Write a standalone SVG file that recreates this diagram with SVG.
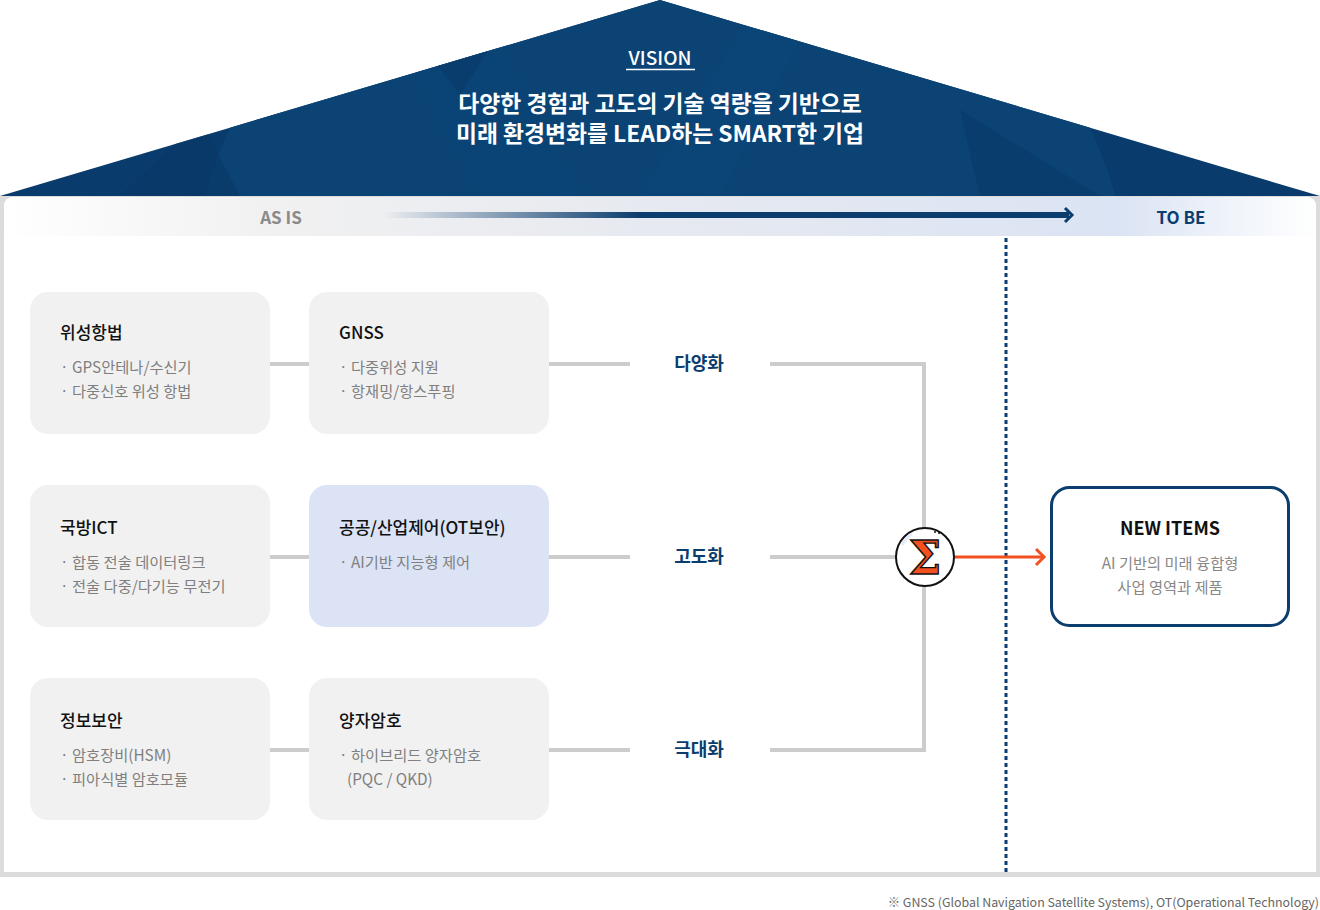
<svg xmlns="http://www.w3.org/2000/svg" width="1320" height="910" viewBox="0 0 1320 910">
<defs>
<style>
.t{font-family:"Noto Sans CJK KR","Noto Sans",sans-serif}
.title{font-size:17px;font-weight:500;fill:#111}
.item{font-size:15.3px;fill:#7f7f7f}
.lab{font-size:18px;font-weight:700;fill:#0b3d6e;text-anchor:middle}
.box{fill:#f1f1f1}
.conn{stroke:#cccccc;stroke-width:4;fill:none}
</style>
<clipPath id="roofClip"><polygon points="0,196 660,0 1320,196"/></clipPath>
<clipPath id="panelClip"><path d="M4,207 Q4,197 14,197 L1306,197 Q1316,197 1316,207 L1316,872 L4,872 Z"/></clipPath>
<linearGradient id="band" x1="0" y1="0" x2="1" y2="0">
<stop offset="0" stop-color="#ffffff"/>
<stop offset="0.2" stop-color="#f1f1f1"/>
<stop offset="0.5" stop-color="#e6e9f0"/>
<stop offset="0.85" stop-color="#dbe4f4"/>
<stop offset="1" stop-color="#ffffff"/>
</linearGradient>
<linearGradient id="arrowG" gradientUnits="userSpaceOnUse" x1="383" y1="0" x2="640" y2="0">
<stop offset="0" stop-color="#0b3d6e" stop-opacity="0"/>
<stop offset="1" stop-color="#0b3d6e"/>
</linearGradient>
</defs>

<!-- roof -->
<g id="roof">
<polygon points="0,196 660,0 1320,196" fill="#093c6c"/>
<g clip-path="url(#roofClip)">
<circle cx="660" cy="330" r="475" fill="#0a4374"/>
<polygon points="380,0 470,0 580,196 480,196" fill="#0a4678" opacity="0.6"/>
<polygon points="410,30 460,95 520,0" fill="#083a69" opacity="0.7"/>
<polygon points="760,0 820,0 720,196 640,196" fill="#0b487b" opacity="0.5"/>
<polygon points="120,196 240,196 200,120" fill="#083765" opacity="0.6"/>
<polygon points="960,110 1100,196 980,196" fill="#083765" opacity="0.5"/>
</g>
<text class="t" x="660" y="65" font-size="19" font-weight="500" fill="#ffffff" text-anchor="middle">VISION</text>
<line x1="626" y1="69.5" x2="695" y2="69.5" stroke="#ffffff" stroke-width="1.5"/>
<text class="t" x="660" y="112" font-size="22.8" font-weight="700" fill="#ffffff" text-anchor="middle">다양한 경험과 고도의 기술 역량을 기반으로</text>
<text class="t" x="660" y="142" font-size="22.8" font-weight="700" fill="#ffffff" text-anchor="middle">미래 환경변화를 LEAD하는 SMART한 기업</text>
</g>

<!-- frame -->
<g id="frame">
<rect x="0" y="196" width="1320" height="681" fill="#dcdcdc"/>
<path d="M4,207 Q4,197 14,197 L1306,197 Q1316,197 1316,207 L1316,872 L4,872 Z" fill="#ffffff"/>
<rect x="4" y="197" width="1312" height="39" fill="url(#band)" clip-path="url(#panelClip)"/>
<text class="t" x="281" y="224" font-size="17" font-weight="700" fill="#8a8a8a" text-anchor="middle">AS IS</text>
<rect x="383" y="212" width="686" height="6" fill="url(#arrowG)"/>
<polyline points="1065,208 1072,215 1065,222" fill="none" stroke="#0b3d6e" stroke-width="3"/>
<text class="t" x="1181" y="224" font-size="17" font-weight="700" fill="#0b3d6e" text-anchor="middle">TO BE</text>
<line x1="1006" y1="238" x2="1006" y2="872" stroke="#0b3d6e" stroke-width="3" stroke-dasharray="4 3"/>
</g>

<!-- connectors -->
<g id="connectors">
<line class="conn" x1="270" y1="364" x2="309" y2="364"/>
<line class="conn" x1="549" y1="364" x2="630" y2="364"/>
<line class="conn" x1="270" y1="557" x2="309" y2="557"/>
<line class="conn" x1="549" y1="557" x2="630" y2="557"/>
<line class="conn" x1="270" y1="750" x2="309" y2="750"/>
<line class="conn" x1="549" y1="750" x2="630" y2="750"/>
<polyline class="conn" points="770,364 924,364 924,750 770,750"/>
<line class="conn" x1="770" y1="557" x2="924" y2="557"/>
<line x1="955" y1="557" x2="1044" y2="557" stroke="#f2501f" stroke-width="3"/>
<polyline points="1036,549 1044,557 1036,565" fill="none" stroke="#f2501f" stroke-width="3"/>
</g>

<g id="label-diversify"><text class="t lab" x="699" y="370">다양화</text></g>
<g id="label-advance"><text class="t lab" x="699" y="563">고도화</text></g>
<g id="label-maximize"><text class="t lab" x="699" y="756">극대화</text></g>

<!-- row 1 -->
<g id="node-sat-nav">
<rect class="box" x="30" y="292" width="240" height="142" rx="18"/>
<text class="t title" x="60" y="339">위성항법</text>
<text class="t item" x="60" y="373">· GPS안테나/수신기</text>
<text class="t item" x="60" y="397">· 다중신호 위성 항법</text>
</g>
<g id="node-gnss">
<rect class="box" x="309" y="292" width="240" height="142" rx="18"/>
<text class="t title" x="339" y="339">GNSS</text>
<text class="t item" x="339" y="373">· 다중위성 지원</text>
<text class="t item" x="339" y="397">· 항재밍/항스푸핑</text>
</g>

<!-- row 2 -->
<g id="node-defense-ict">
<rect class="box" x="30" y="485" width="240" height="142" rx="18"/>
<text class="t title" x="60" y="534">국방ICT</text>
<text class="t item" x="60" y="568">· 합동 전술 데이터링크</text>
<text class="t item" x="60" y="592">· 전술 다중/다기능 무전기</text>
</g>
<g id="node-ot-security">
<rect x="309" y="485" width="240" height="142" rx="18" fill="#dbe3f5"/>
<text class="t title" x="339" y="534">공공/산업제어(OT보안)</text>
<text class="t item" x="339" y="568">· AI기반 지능형 제어</text>
</g>

<!-- row 3 -->
<g id="node-info-security">
<rect class="box" x="30" y="678" width="240" height="142" rx="18"/>
<text class="t title" x="60" y="727">정보보안</text>
<text class="t item" x="60" y="761">· 암호장비(HSM)</text>
<text class="t item" x="60" y="785">· 피아식별 암호모듈</text>
</g>
<g id="node-quantum">
<rect class="box" x="309" y="678" width="240" height="142" rx="18"/>
<text class="t title" x="339" y="727">양자암호</text>
<text class="t item" x="339" y="761">· 하이브리드 양자암호</text>
<text class="t item" x="347" y="785">(PQC / QKD)</text>
</g>

<!-- sigma -->
<g id="node-sigma">
<circle cx="925" cy="557" r="29" fill="#ffffff" stroke="#111111" stroke-width="2"/>
<path d="M902,545 A25,25 0 0 1 912,534" fill="none" stroke="#e3ebf7" stroke-width="3"/>
<text x="925" y="574" font-family="DejaVu Serif, serif" font-size="46" font-weight="700" fill="#f2501f" stroke="#111111" stroke-width="1.4" text-anchor="middle">Σ</text>
<circle cx="935" cy="532" r="1" fill="#111"/>
<circle cx="939" cy="533" r="1" fill="#111"/>
<circle cx="945" cy="578" r="1" fill="#111"/>
</g>

<!-- new items -->
<g id="node-new-items">
<rect x="1051.5" y="487.5" width="237" height="138" rx="18" fill="#ffffff" stroke="#0b3d6e" stroke-width="3"/>
<text class="t" x="1170" y="535" font-size="18" font-weight="700" fill="#111" text-anchor="middle">NEW ITEMS</text>
<text class="t" x="1170" y="569" font-size="15.3" fill="#888" text-anchor="middle">AI 기반의 미래 융합형</text>
<text class="t" x="1170" y="593" font-size="15.3" fill="#888" text-anchor="middle">사업 영역과 제품</text>
</g>

<g id="footnote">
<text class="t" x="1319" y="907" font-size="12.4" fill="#666" text-anchor="end">※ GNSS (Global Navigation Satellite Systems), OT(Operational Technology)</text>
</g>
</svg>
